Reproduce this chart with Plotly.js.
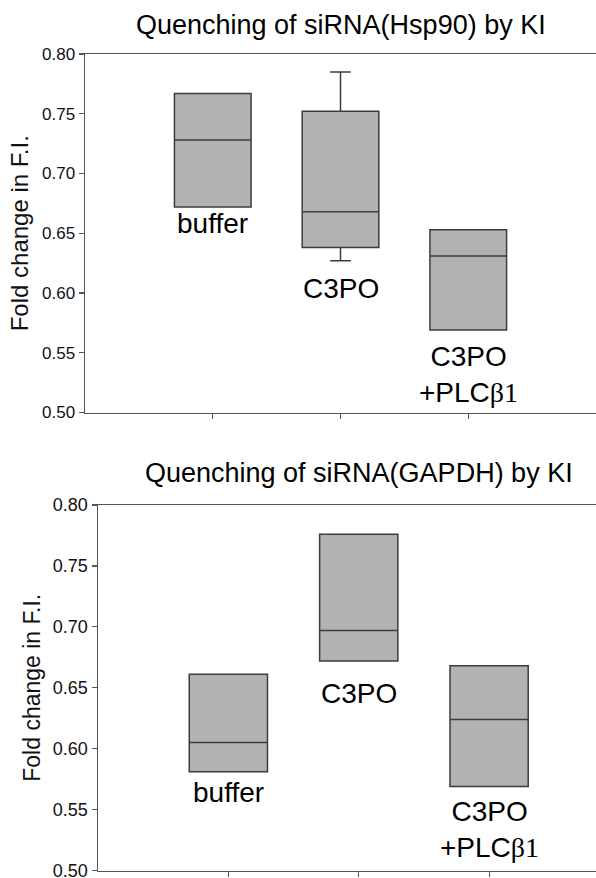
<!DOCTYPE html>
<html>
<head>
<meta charset="utf-8">
<script src="https://cdn.plot.ly/plotly-3.0.1.min.js"></script>
<style>html,body{margin:0;padding:0;background:#fff;}</style>
</head>
<body>
<div id="chart" style="width:596px;height:878px;"></div>
<script>
// ---- data ----
const categories = ['buffer', 'C3PO', 'C3PO+PLCβ1'];
const categoryLabels = ['buffer', 'C3PO', 'C3PO<br>+PLC<span style="font-family:Liberation Serif">β1</span>'];
const yTickValues = [0.50, 0.55, 0.60, 0.65, 0.70, 0.75, 0.80];

// Panel 1: siRNA(Hsp90)
const hspTitle = 'Quenching of siRNA(Hsp90) by KI';
const hspQ1 = [0.672, 0.638, 0.569];
const hspMedian = [0.728, 0.668, 0.631];
const hspQ3 = [0.767, 0.752, 0.653];
const hspLower = [0.672, 0.627, 0.569];
const hspUpper = [0.767, 0.785, 0.653];

// Panel 2: siRNA(GAPDH)
const gapdhTitle = 'Quenching of siRNA(GAPDH) by KI';
const gapdhQ1 = [0.581, 0.672, 0.569];
const gapdhMedian = [0.605, 0.697, 0.624];
const gapdhQ3 = [0.661, 0.776, 0.668];
const gapdhLower = [0.581, 0.672, 0.569];
const gapdhUpper = [0.661, 0.776, 0.668];

const yTitle = 'Fold change in F.I.';

// ---- styles ----
const W = 596, H = 878;
const boxFill = '#b2b2b2';
const boxLine = '#3c3c3c';
const axisColor = '#555555';
const fontFam = 'Liberation Sans, Arial, sans-serif';

function boxTrace(q1, med, q3, lo, hi, xa, ya) {
  return {
    type: 'box', x: categories, q1: q1, median: med, q3: q3,
    lowerfence: lo, upperfence: hi,
    width: 0.6, whiskerwidth: 0.27, boxpoints: false,
    fillcolor: boxFill, line: {color: boxLine, width: 1.5},
    xaxis: xa, yaxis: ya, showlegend: false, hoverinfo: 'skip'
  };
}

const data = [
  boxTrace(hspQ1, hspMedian, hspQ3, hspLower, hspUpper, 'x', 'y'),
  boxTrace(gapdhQ1, gapdhMedian, gapdhQ3, gapdhLower, gapdhUpper, 'x2', 'y2')
];

function xAxis(domain, range, anchor) {
  return {
    domain: domain, range: range, anchor: anchor, type: 'category',
    categoryarray: categories, categoryorder: 'array',
    showticklabels: false, ticks: 'outside', ticklen: 5, tickwidth: 1.2,
    tickcolor: axisColor, showline: true, linecolor: axisColor, linewidth: 1.5,
    mirror: true, showgrid: false, zeroline: false, fixedrange: true
  };
}
function yAxis(domain, anchor, fsize, tfsize, standoff) {
  return {
    domain: domain, anchor: anchor, range: [0.5, 0.8],
    tickvals: yTickValues, tickformat: '.2f', ticks: 'outside', ticklen: 5,
    tickwidth: 1.2, tickcolor: axisColor, showline: true, linecolor: axisColor,
    linewidth: 1.5, showgrid: false, zeroline: false, fixedrange: true,
    ticklabeloverflow: 'allow',
    tickfont: {family: fontFam, size: fsize, color: '#111'},
    title: {text: yTitle, font: {family: fontFam, size: tfsize, color: '#111'}, standoff: standoff}
  };
}

const annFont = {family: fontFam, size: 28, color: '#000'};
const annotations = [];
const hspLabelY = [0.658, 0.6035, 0.532];
const gapdhLabelY = [0.5644, 0.645, 0.534];
categories.forEach((c, i) => {
  annotations.push({xref: 'x', yref: 'y', x: c, y: hspLabelY[i], text: categoryLabels[i],
    showarrow: false, font: annFont, xanchor: 'center', yanchor: 'middle'});
  annotations.push({xref: 'x2', yref: 'y2', x: c, y: gapdhLabelY[i], text: categoryLabels[i],
    showarrow: false, font: annFont, xanchor: 'center', yanchor: 'middle'});
});
annotations.push({xref: 'x', yref: 'paper', x: 'C3PO', y: 1 - 25 / H, text: hspTitle,
  showarrow: false, font: {family: fontFam, size: 27, color: '#000'}, xanchor: 'center', yanchor: 'middle'});
annotations.push({xref: 'x2', yref: 'paper', x: 'C3PO', y: 1 - 473 / H, text: gapdhTitle,
  showarrow: false, font: {family: fontFam, size: 27, color: '#000'}, xanchor: 'center', yanchor: 'middle'});

const layout = {
  width: W, height: H,
  margin: {l: 0, r: 0, t: 0, b: 0},
  paper_bgcolor: '#fff', plot_bgcolor: '#fff',
  showlegend: false,
  xaxis: xAxis([85 / W, 1], [-1, 3], 'y'),
  yaxis: yAxis([1 - 412.5 / H, 1 - 54 / H], 'x', 17, 24, 6),
  xaxis2: xAxis([98 / W, 1], [-1, 2.82], 'y2'),
  yaxis2: yAxis([1 - 870.5 / H, 1 - 505 / H], 'x2', 18, 23, 6),
  annotations: annotations
};

Plotly.newPlot('chart', data, layout, {staticPlot: true, displayModeBar: false});
</script>
</body>
</html>
